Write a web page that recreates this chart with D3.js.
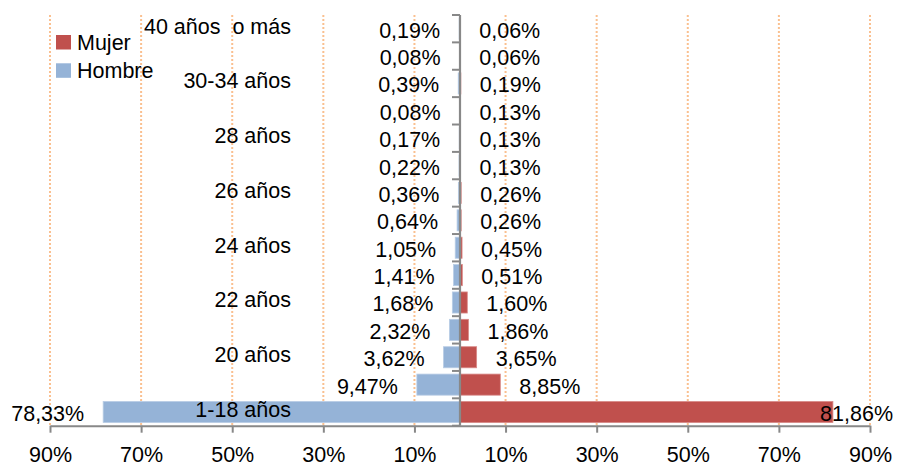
<!DOCTYPE html>
<html><head><meta charset="utf-8">
<script src="https://cdn.jsdelivr.net/npm/d3@7/dist/d3.min.js"></script>
<style>
html,body{margin:0;padding:0;background:#fff;}
svg{display:block;font-family:"Liberation Sans",Arial,sans-serif;}
text{white-space:pre;}
</style></head>
<body>
<svg id="chart" width="903" height="467"></svg>
<script>
const categories = ["40 años  o más","35-39 años","30-34 años","29 años","28 años","27 años","26 años","25 años","24 años","23 años","22 años","21 años","20 años","19 años","1-18 años"];
const hombre = [0.19,0.08,0.39,0.08,0.17,0.22,0.36,0.64,1.05,1.41,1.68,2.32,3.62,9.47,78.33];
const mujer  = [0.06,0.06,0.19,0.13,0.13,0.13,0.26,0.26,0.45,0.51,1.60,1.86,3.65,8.85,81.86];
const tickValues = [-90,-70,-50,-30,-10,10,30,50,70,90];
const seriesNames = ["Mujer","Hombre"];

const colors = {Mujer:"#C0504D", Hombre:"#95B3D7"};
const fontSize = 21.5;
const svg = d3.select("#chart");
const W = 903;

const x = d3.scaleLinear().domain([-90,90]).range([50,870]);
const y = d3.scaleBand().domain(categories).range([15,425.7]).paddingInner(0.23).paddingOuter(0.115);
const yb = d3.scaleBand().domain(categories).range([15,425.7]);

// gridlines
svg.append("g").selectAll("line").data(tickValues).join("line")
  .attr("x1",d=>x(d)).attr("x2",d=>x(d)).attr("y1",15).attr("y2",425.7)
  .attr("stroke","#FAC090").attr("stroke-width",2).attr("stroke-dasharray","2,2");

// bars
const rows = categories.map((c,i)=>({c,h:hombre[i],m:mujer[i]}));
svg.append("g").selectAll("rect").data(rows).join("rect")
  .attr("x",d=>x(-d.h)).attr("width",d=>x(0)-x(-d.h))
  .attr("y",d=>y(d.c)).attr("height",y.bandwidth())
  .attr("fill",colors.Hombre).attr("stroke","#B9CDE5").attr("stroke-width",0.8);
svg.append("g").selectAll("rect").data(rows).join("rect")
  .attr("x",x(0)).attr("width",d=>x(d.m)-x(0))
  .attr("y",d=>y(d.c)).attr("height",y.bandwidth())
  .attr("fill",colors.Mujer).attr("stroke","#D88A88").attr("stroke-width",0.8);

// center axis
const cx = x(0);
svg.append("line").attr("x1",cx).attr("x2",cx).attr("y1",15).attr("y2",425.7)
  .attr("stroke","#888").attr("stroke-width",2.2);
const bounds = d3.range(categories.length+1).map(i=>yb.range()[0]+i*yb.step());
svg.append("g").selectAll("line").data(bounds).join("line")
  .attr("x1",cx-8).attr("x2",cx).attr("y1",d=>d).attr("y2",d=>d)
  .attr("stroke","#888").attr("stroke-width",2);

// bottom axis
const axisG = svg.append("g").attr("transform","translate(0,425.7)");
axisG.call(d3.axisBottom(x).tickValues(tickValues).tickSize(7).tickSizeOuter(0)
  .tickFormat(d=>Math.abs(d)+"%"));
axisG.select(".domain").attr("stroke","#888").attr("stroke-width",2);
axisG.selectAll(".tick line").attr("stroke","#888").attr("stroke-width",2);
axisG.selectAll(".tick text").attr("y",36.5).attr("dy",0)
  .attr("font-size",fontSize).attr("font-family","Liberation Sans, Arial, sans-serif").attr("fill","#000");

const fmt = v => v.toFixed(2).replace(".",",")+"%";

// category labels (every other)
svg.append("g").selectAll("text").data(categories.filter((c,i)=>i%2===0)).join("text")
  .attr("x",291).attr("y",d=>yb(d)+yb.bandwidth()/2+5)
  .attr("text-anchor","end").attr("font-size",fontSize).attr("fill","#000")
  .text(d=>d);

// value labels hombre
svg.append("g").selectAll("text").data(rows).join("text")
  .attr("x",d=>x(-d.h)-19).attr("y",d=>yb(d.c)+yb.bandwidth()/2+9)
  .attr("text-anchor","end").attr("font-size",fontSize).attr("fill","#000")
  .text(d=>fmt(d.h))
  .each(function(){
    const w=this.getComputedTextLength(); const xx=+this.getAttribute("x");
    if(xx-w<10) this.setAttribute("x",10+w);
  });
// value labels mujer
svg.append("g").selectAll("text").data(rows).join("text")
  .attr("x",d=>x(d.m)+19).attr("y",d=>yb(d.c)+yb.bandwidth()/2+9)
  .attr("font-size",fontSize).attr("fill","#000")
  .text(d=>fmt(d.m))
  .each(function(){
    const w=this.getComputedTextLength(); const xx=+this.getAttribute("x");
    if(xx+w>W-10) this.setAttribute("x",W-10-w);
  });

// legend
const leg = svg.append("g").selectAll("g").data(seriesNames).join("g")
  .attr("transform",(d,i)=>`translate(56,${35+i*28.3})`);
leg.append("rect").attr("width",15).attr("height",14.5).attr("fill",d=>colors[d]);
leg.append("text").attr("x",21).attr("y",14.5).attr("font-size",fontSize).attr("fill","#000").text(d=>d);
</script>
</body></html>
